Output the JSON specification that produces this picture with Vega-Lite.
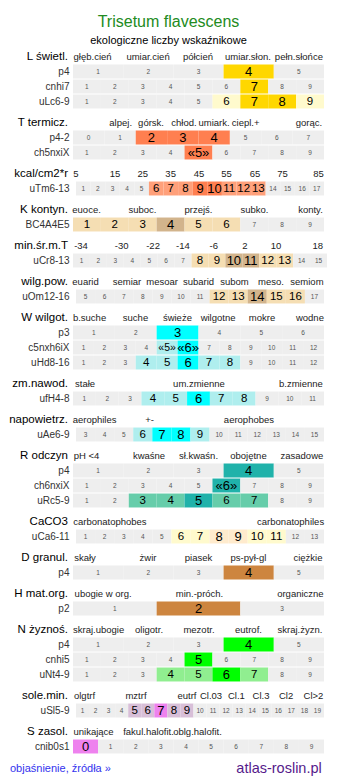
{
"$schema": "https://vega.github.io/schema/vega-lite/v6.json",
"padding": {"left": 0, "right": 0, "top": 14, "bottom": 0},
"config": {"view": {"stroke": null}, "font": "Liberation Sans", "text": {"font": "Liberation Sans"}, "title": {"font": "Liberation Sans"}},
"title": {"text": "Trisetum flavescens", "subtitle": "ekologiczne liczby wskaźnikowe", "fontSize": 16, "fontWeight": "normal", "color": "#228b22", "subtitleFontSize": 11, "subtitleColor": "#000000", "subtitleFont": "Liberation Sans", "anchor": "start", "align": "center", "dx": 168.5, "frame": "group", "subtitlePadding": 5, "offset": 3},
"data": {"values": [
{"k":"sect","s":"L","r":"hdr","t":"L świetl.","o":0},
{"k":"head","s":"L","r":"hdr","t":"głęb.cień","a":0.078},
{"k":"head","s":"L","r":"hdr","t":"umiar.cień","a":0.299},
{"k":"head","s":"L","r":"hdr","t":"półcień","a":0.498},
{"k":"head","s":"L","r":"hdr","t":"umiar.słon.","a":0.697},
{"k":"head","s":"L","r":"hdr","t":"pełn.słońce","a":0.9},
{"k":"rlab","s":"L","r":"p4","t":"p4","o":1},
{"k":"rlab","s":"L","r":"cnhi7","t":"cnhi7","o":2},
{"k":"rlab","s":"L","r":"uLc6-9","t":"uLc6-9","o":3},
{"k":"cell","s":"L","r":"p4","t":"1","a":0,"b":0.2,"c":"n","z":"x"},
{"k":"cell","s":"L","r":"p4","t":"2","a":0.2,"b":0.4,"c":"n","z":"x"},
{"k":"cell","s":"L","r":"p4","t":"3","a":0.4,"b":0.6,"c":"n","z":"x"},
{"k":"cell","s":"L","r":"p4","t":"4","a":0.6,"b":0.8,"c":"L+","z":"m"},
{"k":"cell","s":"L","r":"p4","t":"5","a":0.8,"b":1,"c":"n","z":"x"},
{"k":"cell","s":"L","r":"cnhi7","t":"1","a":0,"b":0.1111,"c":"n","z":"x"},
{"k":"cell","s":"L","r":"cnhi7","t":"2","a":0.1111,"b":0.2222,"c":"n","z":"x"},
{"k":"cell","s":"L","r":"cnhi7","t":"3","a":0.2222,"b":0.3333,"c":"n","z":"x"},
{"k":"cell","s":"L","r":"cnhi7","t":"4","a":0.3333,"b":0.4444,"c":"n","z":"x"},
{"k":"cell","s":"L","r":"cnhi7","t":"5","a":0.4444,"b":0.5556,"c":"n","z":"x"},
{"k":"cell","s":"L","r":"cnhi7","t":"6","a":0.5556,"b":0.6667,"c":"n","z":"x"},
{"k":"cell","s":"L","r":"cnhi7","t":"7","a":0.6667,"b":0.7778,"c":"L+","z":"m"},
{"k":"cell","s":"L","r":"cnhi7","t":"8","a":0.7778,"b":0.8889,"c":"n","z":"x"},
{"k":"cell","s":"L","r":"cnhi7","t":"9","a":0.8889,"b":1,"c":"n","z":"x"},
{"k":"cell","s":"L","r":"uLc6-9","t":"1","a":0,"b":0.1111,"c":"n","z":"x"},
{"k":"cell","s":"L","r":"uLc6-9","t":"2","a":0.1111,"b":0.2222,"c":"n","z":"x"},
{"k":"cell","s":"L","r":"uLc6-9","t":"3","a":0.2222,"b":0.3333,"c":"n","z":"x"},
{"k":"cell","s":"L","r":"uLc6-9","t":"4","a":0.3333,"b":0.4444,"c":"n","z":"x"},
{"k":"cell","s":"L","r":"uLc6-9","t":"5","a":0.4444,"b":0.5556,"c":"n","z":"x"},
{"k":"cell","s":"L","r":"uLc6-9","t":"6","a":0.5556,"b":0.6667,"c":"L~","z":"s"},
{"k":"cell","s":"L","r":"uLc6-9","t":"7","a":0.6667,"b":0.7778,"c":"L+","z":"m"},
{"k":"cell","s":"L","r":"uLc6-9","t":"8","a":0.7778,"b":0.8889,"c":"L+","z":"m"},
{"k":"cell","s":"L","r":"uLc6-9","t":"9","a":0.8889,"b":1,"c":"L~","z":"s"},

{"k":"sect","s":"T","r":"hdr","t":"T termicz.","o":0},
{"k":"head","s":"T","r":"hdr","t":"alpej.","a":0.19},
{"k":"head","s":"T","r":"hdr","t":"górsk.","a":0.311},
{"k":"head","s":"T","r":"hdr","t":"chłod.","a":0.442},
{"k":"head","s":"T","r":"hdr","t":"umiark.","a":0.562},
{"k":"head","s":"T","r":"hdr","t":"ciepl.+","a":0.688},
{"k":"head","s":"T","r":"hdr","t":"gorąc.","a":0.94},
{"k":"rlab","s":"T","r":"p4-2","t":"p4-2","o":1},
{"k":"rlab","s":"T","r":"ch5nxiX","t":"ch5nxiX","o":2},
{"k":"cell","s":"T","r":"p4-2","t":"0","a":0,"b":0.125,"c":"n","z":"x"},
{"k":"cell","s":"T","r":"p4-2","t":"1","a":0.125,"b":0.25,"c":"n","z":"x"},
{"k":"cell","s":"T","r":"p4-2","t":"2","a":0.25,"b":0.375,"c":"T+","z":"m"},
{"k":"cell","s":"T","r":"p4-2","t":"3","a":0.375,"b":0.5,"c":"T+","z":"m"},
{"k":"cell","s":"T","r":"p4-2","t":"4","a":0.5,"b":0.625,"c":"T+","z":"m"},
{"k":"cell","s":"T","r":"p4-2","t":"5","a":0.625,"b":0.75,"c":"n","z":"x"},
{"k":"cell","s":"T","r":"p4-2","t":"6","a":0.75,"b":0.875,"c":"n","z":"x"},
{"k":"cell","s":"T","r":"p4-2","t":"7","a":0.875,"b":1,"c":"n","z":"x"},
{"k":"cell","s":"T","r":"ch5nxiX","t":"1","a":0,"b":0.1111,"c":"n","z":"x"},
{"k":"cell","s":"T","r":"ch5nxiX","t":"2","a":0.1111,"b":0.2222,"c":"n","z":"x"},
{"k":"cell","s":"T","r":"ch5nxiX","t":"3","a":0.2222,"b":0.3333,"c":"n","z":"x"},
{"k":"cell","s":"T","r":"ch5nxiX","t":"4","a":0.3333,"b":0.4444,"c":"n","z":"x"},
{"k":"cell","s":"T","r":"ch5nxiX","t":"«5»","a":0.4444,"b":0.5556,"c":"T+","z":"m"},
{"k":"cell","s":"T","r":"ch5nxiX","t":"6","a":0.5556,"b":0.6667,"c":"n","z":"x"},
{"k":"cell","s":"T","r":"ch5nxiX","t":"7","a":0.6667,"b":0.7778,"c":"n","z":"x"},
{"k":"cell","s":"T","r":"ch5nxiX","t":"8","a":0.7778,"b":0.8889,"c":"n","z":"x"},
{"k":"cell","s":"T","r":"ch5nxiX","t":"9","a":0.8889,"b":1,"c":"n","z":"x"},

{"k":"sect","s":"E","r":"hdr","t":"kcal/cm2*r","o":0},
{"k":"head","s":"E","r":"hdr","t":"5","a":0.012},
{"k":"head","s":"E","r":"hdr","t":"15","a":0.167},
{"k":"head","s":"E","r":"hdr","t":"25","a":0.278},
{"k":"head","s":"E","r":"hdr","t":"35","a":0.389},
{"k":"head","s":"E","r":"hdr","t":"45","a":0.502},
{"k":"head","s":"E","r":"hdr","t":"55","a":0.612},
{"k":"head","s":"E","r":"hdr","t":"65","a":0.725},
{"k":"head","s":"E","r":"hdr","t":"75","a":0.835},
{"k":"head","s":"E","r":"hdr","t":"85","a":0.978},
{"k":"rlab","s":"E","r":"uTm6-13","t":"uTm6-13","o":1},
{"k":"cell","s":"E","r":"uTm6-13","t":"1","a":0.012,"b":0.0701,"c":"n","z":"x"},
{"k":"cell","s":"E","r":"uTm6-13","t":"2","a":0.0701,"b":0.1282,"c":"n","z":"x"},
{"k":"cell","s":"E","r":"uTm6-13","t":"3","a":0.1282,"b":0.1864,"c":"n","z":"x"},
{"k":"cell","s":"E","r":"uTm6-13","t":"4","a":0.1864,"b":0.2445,"c":"n","z":"x"},
{"k":"cell","s":"E","r":"uTm6-13","t":"5","a":0.2445,"b":0.3026,"c":"n","z":"x"},
{"k":"cell","s":"E","r":"uTm6-13","t":"6","a":0.3026,"b":0.3607,"c":"T~","z":"s"},
{"k":"cell","s":"E","r":"uTm6-13","t":"7","a":0.3607,"b":0.4188,"c":"T~","z":"s"},
{"k":"cell","s":"E","r":"uTm6-13","t":"8","a":0.4188,"b":0.477,"c":"T~","z":"s"},
{"k":"cell","s":"E","r":"uTm6-13","t":"9","a":0.477,"b":0.5351,"c":"T+","z":"m"},
{"k":"cell","s":"E","r":"uTm6-13","t":"10","a":0.5351,"b":0.5932,"c":"T+","z":"m"},
{"k":"cell","s":"E","r":"uTm6-13","t":"11","a":0.5932,"b":0.6513,"c":"T~","z":"s"},
{"k":"cell","s":"E","r":"uTm6-13","t":"12","a":0.6513,"b":0.7094,"c":"T~","z":"s"},
{"k":"cell","s":"E","r":"uTm6-13","t":"13","a":0.7094,"b":0.7676,"c":"T~","z":"s"},
{"k":"cell","s":"E","r":"uTm6-13","t":"14","a":0.7676,"b":0.8257,"c":"n","z":"x"},
{"k":"cell","s":"E","r":"uTm6-13","t":"15","a":0.8257,"b":0.8838,"c":"n","z":"x"},
{"k":"cell","s":"E","r":"uTm6-13","t":"16","a":0.8838,"b":0.9419,"c":"n","z":"x"},
{"k":"cell","s":"E","r":"uTm6-13","t":"17","a":0.9419,"b":1,"c":"n","z":"x"},

{"k":"sect","s":"K","r":"hdr","t":"K kontyn.","o":0},
{"k":"head","s":"K","r":"hdr","t":"euoce.","a":0.054},
{"k":"head","s":"K","r":"hdr","t":"suboc.","a":0.277},
{"k":"head","s":"K","r":"hdr","t":"przejś.","a":0.5},
{"k":"head","s":"K","r":"hdr","t":"subko.","a":0.723},
{"k":"head","s":"K","r":"hdr","t":"konty.","a":0.946},
{"k":"rlab","s":"K","r":"BC4A4E5","t":"BC4A4E5","o":1},
{"k":"cell","s":"K","r":"BC4A4E5","t":"1","a":0,"b":0.1111,"c":"K~","z":"s"},
{"k":"cell","s":"K","r":"BC4A4E5","t":"2","a":0.1111,"b":0.2222,"c":"K~","z":"s"},
{"k":"cell","s":"K","r":"BC4A4E5","t":"3","a":0.2222,"b":0.3333,"c":"K~","z":"s"},
{"k":"cell","s":"K","r":"BC4A4E5","t":"4","a":0.3333,"b":0.4444,"c":"K+","z":"m"},
{"k":"cell","s":"K","r":"BC4A4E5","t":"5","a":0.4444,"b":0.5556,"c":"K~","z":"s"},
{"k":"cell","s":"K","r":"BC4A4E5","t":"6","a":0.5556,"b":0.6667,"c":"K~","z":"s"},
{"k":"cell","s":"K","r":"BC4A4E5","t":"7","a":0.6667,"b":0.7778,"c":"n","z":"x"},
{"k":"cell","s":"K","r":"BC4A4E5","t":"8","a":0.7778,"b":0.8889,"c":"n","z":"x"},
{"k":"cell","s":"K","r":"BC4A4E5","t":"9","a":0.8889,"b":1,"c":"n","z":"x"},

{"k":"sect","s":"M","r":"hdr","t":"min.śr.m.T","o":0},
{"k":"head","s":"M","r":"hdr","t":"-34","a":0.032},
{"k":"head","s":"M","r":"hdr","t":"-30","a":0.194},
{"k":"head","s":"M","r":"hdr","t":"-22","a":0.319},
{"k":"head","s":"M","r":"hdr","t":"-14","a":0.438},
{"k":"head","s":"M","r":"hdr","t":"-6","a":0.561},
{"k":"head","s":"M","r":"hdr","t":"2","a":0.685},
{"k":"head","s":"M","r":"hdr","t":"10","a":0.809},
{"k":"head","s":"M","r":"hdr","t":"18","a":0.975},
{"k":"rlab","s":"M","r":"uCr8-13","t":"uCr8-13","o":1},
{"k":"cell","s":"M","r":"uCr8-13","t":"1","a":0,"b":0.0675,"c":"n","z":"x"},
{"k":"cell","s":"M","r":"uCr8-13","t":"2","a":0.0675,"b":0.1349,"c":"n","z":"x"},
{"k":"cell","s":"M","r":"uCr8-13","t":"3","a":0.1349,"b":0.2024,"c":"n","z":"x"},
{"k":"cell","s":"M","r":"uCr8-13","t":"4","a":0.2024,"b":0.2699,"c":"n","z":"x"},
{"k":"cell","s":"M","r":"uCr8-13","t":"5","a":0.2699,"b":0.3373,"c":"n","z":"x"},
{"k":"cell","s":"M","r":"uCr8-13","t":"6","a":0.3373,"b":0.4048,"c":"n","z":"x"},
{"k":"cell","s":"M","r":"uCr8-13","t":"7","a":0.4048,"b":0.4723,"c":"n","z":"x"},
{"k":"cell","s":"M","r":"uCr8-13","t":"8","a":0.4723,"b":0.5397,"c":"K~","z":"s"},
{"k":"cell","s":"M","r":"uCr8-13","t":"9","a":0.5397,"b":0.6072,"c":"K~","z":"s"},
{"k":"cell","s":"M","r":"uCr8-13","t":"10","a":0.6072,"b":0.6747,"c":"K+","z":"m"},
{"k":"cell","s":"M","r":"uCr8-13","t":"11","a":0.6747,"b":0.7421,"c":"K+","z":"m"},
{"k":"cell","s":"M","r":"uCr8-13","t":"12","a":0.7421,"b":0.8096,"c":"K~","z":"s"},
{"k":"cell","s":"M","r":"uCr8-13","t":"13","a":0.8096,"b":0.8771,"c":"K~","z":"s"},
{"k":"cell","s":"M","r":"uCr8-13","t":"14","a":0.8771,"b":0.9445,"c":"n","z":"x"},
{"k":"cell","s":"M","r":"uCr8-13","t":"15","a":0.9445,"b":1.012,"c":"n","z":"x"},

{"k":"sect","s":"G","r":"hdr","t":"wilg.pow.","o":0},
{"k":"head","s":"G","r":"hdr","t":"euarid","a":0.05},
{"k":"head","s":"G","r":"hdr","t":"semiar","a":0.215},
{"k":"head","s":"G","r":"hdr","t":"mesoar","a":0.355},
{"k":"head","s":"G","r":"hdr","t":"subarid","a":0.5},
{"k":"head","s":"G","r":"hdr","t":"subom","a":0.643},
{"k":"head","s":"G","r":"hdr","t":"meso.","a":0.789},
{"k":"head","s":"G","r":"hdr","t":"semiom","a":0.932},
{"k":"rlab","s":"G","r":"uOm12-16","t":"uOm12-16","o":1},
{"k":"cell","s":"G","r":"uOm12-16","t":"5","a":0.012,"b":0.088,"c":"n","z":"x"},
{"k":"cell","s":"G","r":"uOm12-16","t":"6","a":0.088,"b":0.164,"c":"n","z":"x"},
{"k":"cell","s":"G","r":"uOm12-16","t":"7","a":0.164,"b":0.24,"c":"n","z":"x"},
{"k":"cell","s":"G","r":"uOm12-16","t":"8","a":0.24,"b":0.316,"c":"n","z":"x"},
{"k":"cell","s":"G","r":"uOm12-16","t":"9","a":0.316,"b":0.392,"c":"n","z":"x"},
{"k":"cell","s":"G","r":"uOm12-16","t":"10","a":0.392,"b":0.468,"c":"n","z":"x"},
{"k":"cell","s":"G","r":"uOm12-16","t":"11","a":0.468,"b":0.544,"c":"n","z":"x"},
{"k":"cell","s":"G","r":"uOm12-16","t":"12","a":0.544,"b":0.62,"c":"K~","z":"s"},
{"k":"cell","s":"G","r":"uOm12-16","t":"13","a":0.62,"b":0.696,"c":"K~","z":"s"},
{"k":"cell","s":"G","r":"uOm12-16","t":"14","a":0.696,"b":0.772,"c":"K+","z":"m"},
{"k":"cell","s":"G","r":"uOm12-16","t":"15","a":0.772,"b":0.848,"c":"K~","z":"s"},
{"k":"cell","s":"G","r":"uOm12-16","t":"16","a":0.848,"b":0.924,"c":"K~","z":"s"},
{"k":"cell","s":"G","r":"uOm12-16","t":"17","a":0.924,"b":1,"c":"n","z":"x"},

{"k":"sect","s":"W","r":"hdr","t":"W wilgot.","o":0},
{"k":"head","s":"W","r":"hdr","t":"b.suche","a":0.066},
{"k":"head","s":"W","r":"hdr","t":"suche","a":0.249},
{"k":"head","s":"W","r":"hdr","t":"świeże","a":0.416},
{"k":"head","s":"W","r":"hdr","t":"wilgotne","a":0.578},
{"k":"head","s":"W","r":"hdr","t":"mokre","a":0.753},
{"k":"head","s":"W","r":"hdr","t":"wodne","a":0.944},
{"k":"rlab","s":"W","r":"p3","t":"p3","o":1},
{"k":"rlab","s":"W","r":"c5nxh6iX","t":"c5nxh6iX","o":2},
{"k":"rlab","s":"W","r":"uHd8-16","t":"uHd8-16","o":3},
{"k":"cell","s":"W","r":"p3","t":"1","a":0,"b":0.1667,"c":"n","z":"x"},
{"k":"cell","s":"W","r":"p3","t":"2","a":0.1667,"b":0.3333,"c":"n","z":"x"},
{"k":"cell","s":"W","r":"p3","t":"3","a":0.3333,"b":0.5,"c":"W+","z":"m"},
{"k":"cell","s":"W","r":"p3","t":"4","a":0.5,"b":0.6667,"c":"n","z":"x"},
{"k":"cell","s":"W","r":"p3","t":"5","a":0.6667,"b":0.8333,"c":"n","z":"x"},
{"k":"cell","s":"W","r":"p3","t":"6","a":0.8333,"b":1,"c":"n","z":"x"},
{"k":"cell","s":"W","r":"c5nxh6iX","t":"1","a":0,"b":0.0833,"c":"n","z":"x"},
{"k":"cell","s":"W","r":"c5nxh6iX","t":"2","a":0.0833,"b":0.1667,"c":"n","z":"x"},
{"k":"cell","s":"W","r":"c5nxh6iX","t":"3","a":0.1667,"b":0.25,"c":"n","z":"x"},
{"k":"cell","s":"W","r":"c5nxh6iX","t":"4","a":0.25,"b":0.3333,"c":"n","z":"x"},
{"k":"cell","s":"W","r":"c5nxh6iX","t":"«5»","a":0.3333,"b":0.4167,"c":"W~","z":"q"},
{"k":"cell","s":"W","r":"c5nxh6iX","t":"«6»","a":0.4167,"b":0.5,"c":"W+","z":"m"},
{"k":"cell","s":"W","r":"c5nxh6iX","t":"7","a":0.5,"b":0.5833,"c":"n","z":"x"},
{"k":"cell","s":"W","r":"c5nxh6iX","t":"8","a":0.5833,"b":0.6667,"c":"n","z":"x"},
{"k":"cell","s":"W","r":"c5nxh6iX","t":"9","a":0.6667,"b":0.75,"c":"n","z":"x"},
{"k":"cell","s":"W","r":"c5nxh6iX","t":"10","a":0.75,"b":0.8333,"c":"n","z":"x"},
{"k":"cell","s":"W","r":"c5nxh6iX","t":"11","a":0.8333,"b":0.9167,"c":"n","z":"x"},
{"k":"cell","s":"W","r":"c5nxh6iX","t":"12","a":0.9167,"b":1,"c":"n","z":"x"},
{"k":"cell","s":"W","r":"uHd8-16","t":"1","a":0,"b":0.0833,"c":"n","z":"x"},
{"k":"cell","s":"W","r":"uHd8-16","t":"2","a":0.0833,"b":0.1667,"c":"n","z":"x"},
{"k":"cell","s":"W","r":"uHd8-16","t":"3","a":0.1667,"b":0.25,"c":"n","z":"x"},
{"k":"cell","s":"W","r":"uHd8-16","t":"4","a":0.25,"b":0.3333,"c":"W~","z":"s"},
{"k":"cell","s":"W","r":"uHd8-16","t":"5","a":0.3333,"b":0.4167,"c":"W~","z":"s"},
{"k":"cell","s":"W","r":"uHd8-16","t":"6","a":0.4167,"b":0.5,"c":"W+","z":"m"},
{"k":"cell","s":"W","r":"uHd8-16","t":"7","a":0.5,"b":0.5833,"c":"W~","z":"s"},
{"k":"cell","s":"W","r":"uHd8-16","t":"8","a":0.5833,"b":0.6667,"c":"W~","z":"s"},
{"k":"cell","s":"W","r":"uHd8-16","t":"9","a":0.6667,"b":0.75,"c":"n","z":"x"},
{"k":"cell","s":"W","r":"uHd8-16","t":"10","a":0.75,"b":0.8333,"c":"n","z":"x"},
{"k":"cell","s":"W","r":"uHd8-16","t":"11","a":0.8333,"b":0.9167,"c":"n","z":"x"},
{"k":"cell","s":"W","r":"uHd8-16","t":"12","a":0.9167,"b":1,"c":"n","z":"x"},

{"k":"sect","s":"Z","r":"hdr","t":"zm.nawod.","o":0},
{"k":"head","s":"Z","r":"hdr","t":"stałe","a":0.048},
{"k":"head","s":"Z","r":"hdr","t":"um.zmienne","a":0.502},
{"k":"head","s":"Z","r":"hdr","t":"b.zmienne","a":0.908},
{"k":"rlab","s":"Z","r":"ufH4-8","t":"ufH4-8","o":1},
{"k":"cell","s":"Z","r":"ufH4-8","t":"1","a":0,"b":0.0909,"c":"n","z":"x"},
{"k":"cell","s":"Z","r":"ufH4-8","t":"2","a":0.0909,"b":0.1818,"c":"n","z":"x"},
{"k":"cell","s":"Z","r":"ufH4-8","t":"3","a":0.1818,"b":0.2727,"c":"n","z":"x"},
{"k":"cell","s":"Z","r":"ufH4-8","t":"4","a":0.2727,"b":0.3636,"c":"W~","z":"s"},
{"k":"cell","s":"Z","r":"ufH4-8","t":"5","a":0.3636,"b":0.4545,"c":"W~","z":"s"},
{"k":"cell","s":"Z","r":"ufH4-8","t":"6","a":0.4545,"b":0.5455,"c":"W+","z":"m"},
{"k":"cell","s":"Z","r":"ufH4-8","t":"7","a":0.5455,"b":0.6364,"c":"W~","z":"s"},
{"k":"cell","s":"Z","r":"ufH4-8","t":"8","a":0.6364,"b":0.7273,"c":"W~","z":"s"},
{"k":"cell","s":"Z","r":"ufH4-8","t":"9","a":0.7273,"b":0.8182,"c":"n","z":"x"},
{"k":"cell","s":"Z","r":"ufH4-8","t":"10","a":0.8182,"b":0.9091,"c":"n","z":"x"},
{"k":"cell","s":"Z","r":"ufH4-8","t":"11","a":0.9091,"b":1,"c":"n","z":"x"},

{"k":"sect","s":"A","r":"hdr","t":"napowietrz.","o":0},
{"k":"head","s":"A","r":"hdr","t":"aerophiles","a":0.086},
{"k":"head","s":"A","r":"hdr","t":"+-","a":0.305},
{"k":"head","s":"A","r":"hdr","t":"aerophobes","a":0.701},
{"k":"rlab","s":"A","r":"uAe6-9","t":"uAe6-9","o":1},
{"k":"cell","s":"A","r":"uAe6-9","t":"3","a":0.012,"b":0.088,"c":"n","z":"x"},
{"k":"cell","s":"A","r":"uAe6-9","t":"4","a":0.088,"b":0.164,"c":"n","z":"x"},
{"k":"cell","s":"A","r":"uAe6-9","t":"5","a":0.164,"b":0.24,"c":"n","z":"x"},
{"k":"cell","s":"A","r":"uAe6-9","t":"6","a":0.24,"b":0.316,"c":"W~","z":"s"},
{"k":"cell","s":"A","r":"uAe6-9","t":"7","a":0.316,"b":0.392,"c":"W+","z":"m"},
{"k":"cell","s":"A","r":"uAe6-9","t":"8","a":0.392,"b":0.468,"c":"W+","z":"m"},
{"k":"cell","s":"A","r":"uAe6-9","t":"9","a":0.468,"b":0.544,"c":"W~","z":"s"},
{"k":"cell","s":"A","r":"uAe6-9","t":"10","a":0.544,"b":0.62,"c":"n","z":"x"},
{"k":"cell","s":"A","r":"uAe6-9","t":"11","a":0.62,"b":0.696,"c":"n","z":"x"},
{"k":"cell","s":"A","r":"uAe6-9","t":"12","a":0.696,"b":0.772,"c":"n","z":"x"},
{"k":"cell","s":"A","r":"uAe6-9","t":"13","a":0.772,"b":0.848,"c":"n","z":"x"},
{"k":"cell","s":"A","r":"uAe6-9","t":"14","a":0.848,"b":0.924,"c":"n","z":"x"},
{"k":"cell","s":"A","r":"uAe6-9","t":"15","a":0.924,"b":1,"c":"n","z":"x"},

{"k":"sect","s":"R","r":"hdr","t":"R odczyn","o":0},
{"k":"head","s":"R","r":"hdr","t":"pH <4","a":0.054},
{"k":"head","s":"R","r":"hdr","t":"kwaśne","a":0.303},
{"k":"head","s":"R","r":"hdr","t":"sł.kwaśn.","a":0.5},
{"k":"head","s":"R","r":"hdr","t":"obojętne","a":0.699},
{"k":"head","s":"R","r":"hdr","t":"zasadowe","a":0.912},
{"k":"rlab","s":"R","r":"p4","t":"p4","o":1},
{"k":"rlab","s":"R","r":"ch6nxiX","t":"ch6nxiX","o":2},
{"k":"rlab","s":"R","r":"uRc5-9","t":"uRc5-9","o":3},
{"k":"cell","s":"R","r":"p4","t":"1","a":0,"b":0.2,"c":"n","z":"x"},
{"k":"cell","s":"R","r":"p4","t":"2","a":0.2,"b":0.4,"c":"n","z":"x"},
{"k":"cell","s":"R","r":"p4","t":"3","a":0.4,"b":0.6,"c":"n","z":"x"},
{"k":"cell","s":"R","r":"p4","t":"4","a":0.6,"b":0.8,"c":"R+","z":"m"},
{"k":"cell","s":"R","r":"p4","t":"5","a":0.8,"b":1,"c":"n","z":"x"},
{"k":"cell","s":"R","r":"ch6nxiX","t":"1","a":0,"b":0.1111,"c":"n","z":"x"},
{"k":"cell","s":"R","r":"ch6nxiX","t":"2","a":0.1111,"b":0.2222,"c":"n","z":"x"},
{"k":"cell","s":"R","r":"ch6nxiX","t":"3","a":0.2222,"b":0.3333,"c":"n","z":"x"},
{"k":"cell","s":"R","r":"ch6nxiX","t":"4","a":0.3333,"b":0.4444,"c":"n","z":"x"},
{"k":"cell","s":"R","r":"ch6nxiX","t":"5","a":0.4444,"b":0.5556,"c":"n","z":"x"},
{"k":"cell","s":"R","r":"ch6nxiX","t":"«6»","a":0.5556,"b":0.6667,"c":"R+","z":"m"},
{"k":"cell","s":"R","r":"ch6nxiX","t":"7","a":0.6667,"b":0.7778,"c":"n","z":"x"},
{"k":"cell","s":"R","r":"ch6nxiX","t":"8","a":0.7778,"b":0.8889,"c":"n","z":"x"},
{"k":"cell","s":"R","r":"ch6nxiX","t":"9","a":0.8889,"b":1,"c":"n","z":"x"},
{"k":"cell","s":"R","r":"uRc5-9","t":"1","a":0,"b":0.1111,"c":"n","z":"x"},
{"k":"cell","s":"R","r":"uRc5-9","t":"2","a":0.1111,"b":0.2222,"c":"n","z":"x"},
{"k":"cell","s":"R","r":"uRc5-9","t":"3","a":0.2222,"b":0.3333,"c":"R~","z":"s"},
{"k":"cell","s":"R","r":"uRc5-9","t":"4","a":0.3333,"b":0.4444,"c":"R~","z":"s"},
{"k":"cell","s":"R","r":"uRc5-9","t":"5","a":0.4444,"b":0.5556,"c":"R+","z":"m"},
{"k":"cell","s":"R","r":"uRc5-9","t":"6","a":0.5556,"b":0.6667,"c":"R~","z":"s"},
{"k":"cell","s":"R","r":"uRc5-9","t":"7","a":0.6667,"b":0.7778,"c":"R~","z":"s"},
{"k":"cell","s":"R","r":"uRc5-9","t":"8","a":0.7778,"b":0.8889,"c":"n","z":"x"},
{"k":"cell","s":"R","r":"uRc5-9","t":"9","a":0.8889,"b":1,"c":"n","z":"x"},

{"k":"sect","s":"C","r":"hdr","t":"CaCO3","o":0},
{"k":"head","s":"C","r":"hdr","t":"carbonatophobes","a":0.147},
{"k":"head","s":"C","r":"hdr","t":"carbonatophiles","a":0.867},
{"k":"rlab","s":"C","r":"uCa6-11","t":"uCa6-11","o":1},
{"k":"cell","s":"C","r":"uCa6-11","t":"1","a":0.012,"b":0.088,"c":"n","z":"x"},
{"k":"cell","s":"C","r":"uCa6-11","t":"2","a":0.088,"b":0.164,"c":"n","z":"x"},
{"k":"cell","s":"C","r":"uCa6-11","t":"3","a":0.164,"b":0.24,"c":"n","z":"x"},
{"k":"cell","s":"C","r":"uCa6-11","t":"4","a":0.24,"b":0.316,"c":"n","z":"x"},
{"k":"cell","s":"C","r":"uCa6-11","t":"5","a":0.316,"b":0.392,"c":"n","z":"x"},
{"k":"cell","s":"C","r":"uCa6-11","t":"6","a":0.392,"b":0.468,"c":"L~","z":"s"},
{"k":"cell","s":"C","r":"uCa6-11","t":"7","a":0.468,"b":0.544,"c":"L~","z":"s"},
{"k":"cell","s":"C","r":"uCa6-11","t":"8","a":0.544,"b":0.62,"c":"C+","z":"m"},
{"k":"cell","s":"C","r":"uCa6-11","t":"9","a":0.62,"b":0.696,"c":"C+","z":"m"},
{"k":"cell","s":"C","r":"uCa6-11","t":"10","a":0.696,"b":0.772,"c":"L~","z":"s"},
{"k":"cell","s":"C","r":"uCa6-11","t":"11","a":0.772,"b":0.848,"c":"L~","z":"s"},
{"k":"cell","s":"C","r":"uCa6-11","t":"12","a":0.848,"b":0.924,"c":"n","z":"x"},
{"k":"cell","s":"C","r":"uCa6-11","t":"13","a":0.924,"b":1,"c":"n","z":"x"},

{"k":"sect","s":"D","r":"hdr","t":"D granul.","o":0},
{"k":"head","s":"D","r":"hdr","t":"skały","a":0.048},
{"k":"head","s":"D","r":"hdr","t":"żwir","a":0.299},
{"k":"head","s":"D","r":"hdr","t":"piasek","a":0.5},
{"k":"head","s":"D","r":"hdr","t":"ps-pył-gl","a":0.699},
{"k":"head","s":"D","r":"hdr","t":"ciężkie","a":0.936},
{"k":"rlab","s":"D","r":"p4","t":"p4","o":1},
{"k":"cell","s":"D","r":"p4","t":"1","a":0,"b":0.2,"c":"n","z":"x"},
{"k":"cell","s":"D","r":"p4","t":"2","a":0.2,"b":0.4,"c":"n","z":"x"},
{"k":"cell","s":"D","r":"p4","t":"3","a":0.4,"b":0.6,"c":"n","z":"x"},
{"k":"cell","s":"D","r":"p4","t":"4","a":0.6,"b":0.8,"c":"D+","z":"m"},
{"k":"cell","s":"D","r":"p4","t":"5","a":0.8,"b":1,"c":"n","z":"x"},

{"k":"sect","s":"H","r":"hdr","t":"H mat.org.","o":0},
{"k":"head","s":"H","r":"hdr","t":"ubogie w org.","a":0.12},
{"k":"head","s":"H","r":"hdr","t":"min.-próch.","a":0.504},
{"k":"head","s":"H","r":"hdr","t":"organiczne","a":0.906},
{"k":"rlab","s":"H","r":"p2","t":"p2","o":1},
{"k":"cell","s":"H","r":"p2","t":"1","a":0,"b":0.3333,"c":"n","z":"x"},
{"k":"cell","s":"H","r":"p2","t":"2","a":0.3333,"b":0.6667,"c":"D+","z":"m"},
{"k":"cell","s":"H","r":"p2","t":"3","a":0.6667,"b":1,"c":"n","z":"x"},

{"k":"sect","s":"N","r":"hdr","t":"N żyznoś.","o":0},
{"k":"head","s":"N","r":"hdr","t":"skraj.ubogie","a":0.102},
{"k":"head","s":"N","r":"hdr","t":"oligotr.","a":0.303},
{"k":"head","s":"N","r":"hdr","t":"mezotr.","a":0.502},
{"k":"head","s":"N","r":"hdr","t":"eutrof.","a":0.699},
{"k":"head","s":"N","r":"hdr","t":"skraj.żyzn.","a":0.904},
{"k":"rlab","s":"N","r":"p4","t":"p4","o":1},
{"k":"rlab","s":"N","r":"cnhi5","t":"cnhi5","o":2},
{"k":"rlab","s":"N","r":"uNt4-9","t":"uNt4-9","o":3},
{"k":"cell","s":"N","r":"p4","t":"1","a":0,"b":0.2,"c":"n","z":"x"},
{"k":"cell","s":"N","r":"p4","t":"2","a":0.2,"b":0.4,"c":"n","z":"x"},
{"k":"cell","s":"N","r":"p4","t":"3","a":0.4,"b":0.6,"c":"n","z":"x"},
{"k":"cell","s":"N","r":"p4","t":"4","a":0.6,"b":0.8,"c":"N+","z":"m"},
{"k":"cell","s":"N","r":"p4","t":"5","a":0.8,"b":1,"c":"n","z":"x"},
{"k":"cell","s":"N","r":"cnhi5","t":"1","a":0,"b":0.1111,"c":"n","z":"x"},
{"k":"cell","s":"N","r":"cnhi5","t":"2","a":0.1111,"b":0.2222,"c":"n","z":"x"},
{"k":"cell","s":"N","r":"cnhi5","t":"3","a":0.2222,"b":0.3333,"c":"n","z":"x"},
{"k":"cell","s":"N","r":"cnhi5","t":"4","a":0.3333,"b":0.4444,"c":"n","z":"x"},
{"k":"cell","s":"N","r":"cnhi5","t":"5","a":0.4444,"b":0.5556,"c":"N+","z":"m"},
{"k":"cell","s":"N","r":"cnhi5","t":"6","a":0.5556,"b":0.6667,"c":"n","z":"x"},
{"k":"cell","s":"N","r":"cnhi5","t":"7","a":0.6667,"b":0.7778,"c":"n","z":"x"},
{"k":"cell","s":"N","r":"cnhi5","t":"8","a":0.7778,"b":0.8889,"c":"n","z":"x"},
{"k":"cell","s":"N","r":"cnhi5","t":"9","a":0.8889,"b":1,"c":"n","z":"x"},
{"k":"cell","s":"N","r":"uNt4-9","t":"1","a":0,"b":0.1111,"c":"n","z":"x"},
{"k":"cell","s":"N","r":"uNt4-9","t":"2","a":0.1111,"b":0.2222,"c":"n","z":"x"},
{"k":"cell","s":"N","r":"uNt4-9","t":"3","a":0.2222,"b":0.3333,"c":"n","z":"x"},
{"k":"cell","s":"N","r":"uNt4-9","t":"4","a":0.3333,"b":0.4444,"c":"N~","z":"s"},
{"k":"cell","s":"N","r":"uNt4-9","t":"5","a":0.4444,"b":0.5556,"c":"N~","z":"s"},
{"k":"cell","s":"N","r":"uNt4-9","t":"6","a":0.5556,"b":0.6667,"c":"N+","z":"m"},
{"k":"cell","s":"N","r":"uNt4-9","t":"7","a":0.6667,"b":0.7778,"c":"N~","z":"s"},
{"k":"cell","s":"N","r":"uNt4-9","t":"8","a":0.7778,"b":0.8889,"c":"n","z":"x"},
{"k":"cell","s":"N","r":"uNt4-9","t":"9","a":0.8889,"b":1,"c":"n","z":"x"},

{"k":"sect","s":"O","r":"hdr","t":"sole.min.","o":0},
{"k":"head","s":"O","r":"hdr","t":"olgtrf","a":0.046},
{"k":"head","s":"O","r":"hdr","t":"mztrf","a":0.251},
{"k":"head","s":"O","r":"hdr","t":"eutrf","a":0.454},
{"k":"head","s":"O","r":"hdr","t":"Cl.03","a":0.55},
{"k":"head","s":"O","r":"hdr","t":"Cl.1","a":0.651},
{"k":"head","s":"O","r":"hdr","t":"Cl.3","a":0.749},
{"k":"head","s":"O","r":"hdr","t":"Cl2","a":0.849},
{"k":"head","s":"O","r":"hdr","t":"Cl>2","a":0.958},
{"k":"rlab","s":"O","r":"uSl5-9","t":"uSl5-9","o":1},
{"k":"cell","s":"O","r":"uSl5-9","t":"1","a":0.012,"b":0.064,"c":"n","z":"x"},
{"k":"cell","s":"O","r":"uSl5-9","t":"2","a":0.064,"b":0.116,"c":"n","z":"x"},
{"k":"cell","s":"O","r":"uSl5-9","t":"3","a":0.116,"b":0.168,"c":"n","z":"x"},
{"k":"cell","s":"O","r":"uSl5-9","t":"4","a":0.168,"b":0.22,"c":"n","z":"x"},
{"k":"cell","s":"O","r":"uSl5-9","t":"5","a":0.22,"b":0.272,"c":"S~","z":"s"},
{"k":"cell","s":"O","r":"uSl5-9","t":"6","a":0.272,"b":0.324,"c":"S~","z":"s"},
{"k":"cell","s":"O","r":"uSl5-9","t":"7","a":0.324,"b":0.376,"c":"S+","z":"m"},
{"k":"cell","s":"O","r":"uSl5-9","t":"8","a":0.376,"b":0.428,"c":"S~","z":"s"},
{"k":"cell","s":"O","r":"uSl5-9","t":"9","a":0.428,"b":0.48,"c":"S~","z":"s"},
{"k":"cell","s":"O","r":"uSl5-9","t":"10","a":0.48,"b":0.532,"c":"n","z":"x"},
{"k":"cell","s":"O","r":"uSl5-9","t":"11","a":0.532,"b":0.584,"c":"n","z":"x"},
{"k":"cell","s":"O","r":"uSl5-9","t":"12","a":0.584,"b":0.636,"c":"n","z":"x"},
{"k":"cell","s":"O","r":"uSl5-9","t":"13","a":0.636,"b":0.688,"c":"n","z":"x"},
{"k":"cell","s":"O","r":"uSl5-9","t":"14","a":0.688,"b":0.74,"c":"n","z":"x"},
{"k":"cell","s":"O","r":"uSl5-9","t":"15","a":0.74,"b":0.792,"c":"n","z":"x"},
{"k":"cell","s":"O","r":"uSl5-9","t":"16","a":0.792,"b":0.844,"c":"n","z":"x"},
{"k":"cell","s":"O","r":"uSl5-9","t":"17","a":0.844,"b":0.896,"c":"n","z":"x"},
{"k":"cell","s":"O","r":"uSl5-9","t":"18","a":0.896,"b":0.948,"c":"n","z":"x"},
{"k":"cell","s":"O","r":"uSl5-9","t":"19","a":0.948,"b":1,"c":"n","z":"x"},

{"k":"sect","s":"S","r":"hdr","t":"S zasol.","o":0},
{"k":"head","s":"S","r":"hdr","t":"unikające","a":0.082},
{"k":"head","s":"S","r":"hdr","t":"fakul.halofit.","a":0.301},
{"k":"head","s":"S","r":"hdr","t":"oblg.halofit.","a":0.496},
{"k":"rlab","s":"S","r":"cnib0s1","t":"cnib0s1","o":1},
{"k":"cell","s":"S","r":"cnib0s1","t":"0","a":0,"b":0.1,"c":"S+","z":"m"},
{"k":"cell","s":"S","r":"cnib0s1","t":"1","a":0.1,"b":0.2,"c":"n","z":"x"},
{"k":"cell","s":"S","r":"cnib0s1","t":"2","a":0.2,"b":0.3,"c":"n","z":"x"},
{"k":"cell","s":"S","r":"cnib0s1","t":"3","a":0.3,"b":0.4,"c":"n","z":"x"},
{"k":"cell","s":"S","r":"cnib0s1","t":"4","a":0.4,"b":0.5,"c":"n","z":"x"},
{"k":"cell","s":"S","r":"cnib0s1","t":"5","a":0.5,"b":0.6,"c":"n","z":"x"},
{"k":"cell","s":"S","r":"cnib0s1","t":"6","a":0.6,"b":0.7,"c":"n","z":"x"},
{"k":"cell","s":"S","r":"cnib0s1","t":"7","a":0.7,"b":0.8,"c":"n","z":"x"},
{"k":"cell","s":"S","r":"cnib0s1","t":"8","a":0.8,"b":0.9,"c":"n","z":"x"},
{"k":"cell","s":"S","r":"cnib0s1","t":"9","a":0.9,"b":1,"c":"n","z":"x"},

{"k":"fl","s":"F","r":"hdr","t":"objaśnienie, źródła »","o":0},
{"k":"fr","s":"F","r":"hdr","t":"atlas-roslin.pl","o":0}
]},
"facet": {"row": {"field": "s", "type": "nominal", "sort": ["L","T","E","K","M","G","W","Z","A","R","C","D","H","N","O","S","F"], "header": null}},
"spacing": 6,
"resolve": {"scale": {"y": "independent"}},
"spec": {
  "width": 337,
  "height": {"step": 15},
  "encoding": {
    "y": {"field": "r", "type": "nominal", "sort": {"field": "o", "op": "min"}, "axis": null, "scale": {"paddingInner": 0.07, "paddingOuter": 0.035}}
  },
  "layer": [
    {
      "transform": [{"filter": "datum.k === 'cell'"}],
      "mark": {"type": "rect", "opacity": 1},
      "encoding": {
        "x": {"field": "a", "type": "quantitative", "scale": {"domain": [-0.2908, 1.0518], "nice": false, "zero": false}, "axis": null},
        "x2": {"field": "b"},
        "fill": {"field": "c", "type": "nominal", "legend": null, "scale": {"domain": ["n","L+","L~","T+","T~","K+","K~","W+","W~","R+","R~","C+","D+","N+","N~","S+","S~"], "range": ["#eeeeee","#ffd700","#fffacd","#ff7f50","#ffa07a","#d2b48c","#f5deb3","#00ffff","#afeeee","#20b2aa","#66cdaa","#ffebcd","#cd853f","#00ff00","#90ee90","#ee82ee","#d8bfd8"]}}
      }
    },
    {
      "transform": [
        {"filter": "datum.k === 'cell'"},
        {"fold": ["a", "b"], "as": ["e", "v"]},
        {"aggregate": [{"op": "mean", "field": "v", "as": "m"}], "groupby": ["s", "r", "t", "z"]}
      ],
      "mark": {"type": "text", "align": "center", "baseline": "middle"},
      "encoding": {
        "x": {"field": "m", "type": "quantitative"},
        "text": {"field": "t"},
        "size": {"condition": [{"test": "datum.z === 'm'", "value": 13}, {"test": "datum.z === 's'", "value": 11.5}, {"test": "datum.z === 'q'", "value": 10.5}], "value": 6.5},
        "color": {"condition": {"test": "datum.z === 'x'", "value": "#555555"}, "value": "#000000"}
      }
    },
    {
      "transform": [{"filter": "datum.k === 'head'"}],
      "mark": {"type": "text", "align": "center", "baseline": "middle", "fontSize": 9.5, "color": "#222222"},
      "encoding": {
        "x": {"field": "a", "type": "quantitative"},
        "text": {"field": "t"}
      }
    },
    {
      "transform": [{"filter": "datum.k === 'sect'"}],
      "mark": {"type": "text", "align": "right", "baseline": "middle", "fontSize": 11.5, "color": "#000000"},
      "encoding": {
        "x": {"datum": -0.02},
        "text": {"field": "t"}
      }
    },
    {
      "transform": [{"filter": "datum.k === 'rlab'"}],
      "mark": {"type": "text", "align": "right", "baseline": "middle", "fontSize": 10, "color": "#333333"},
      "encoding": {
        "x": {"datum": -0.014},
        "text": {"field": "t"}
      }
    },
    {
      "transform": [{"filter": "datum.k === 'fl'"}],
      "mark": {"type": "text", "align": "left", "baseline": "middle", "fontSize": 11, "color": "#3333ee"},
      "encoding": {
        "x": {"datum": -0.251},
        "text": {"field": "t"}
      }
    },
    {
      "transform": [{"filter": "datum.k === 'fr'"}],
      "mark": {"type": "text", "align": "right", "baseline": "middle", "fontSize": 14.5, "color": "#551a8b"},
      "encoding": {
        "x": {"datum": 0.991},
        "text": {"field": "t"}
      }
    }
  ]
}
}
